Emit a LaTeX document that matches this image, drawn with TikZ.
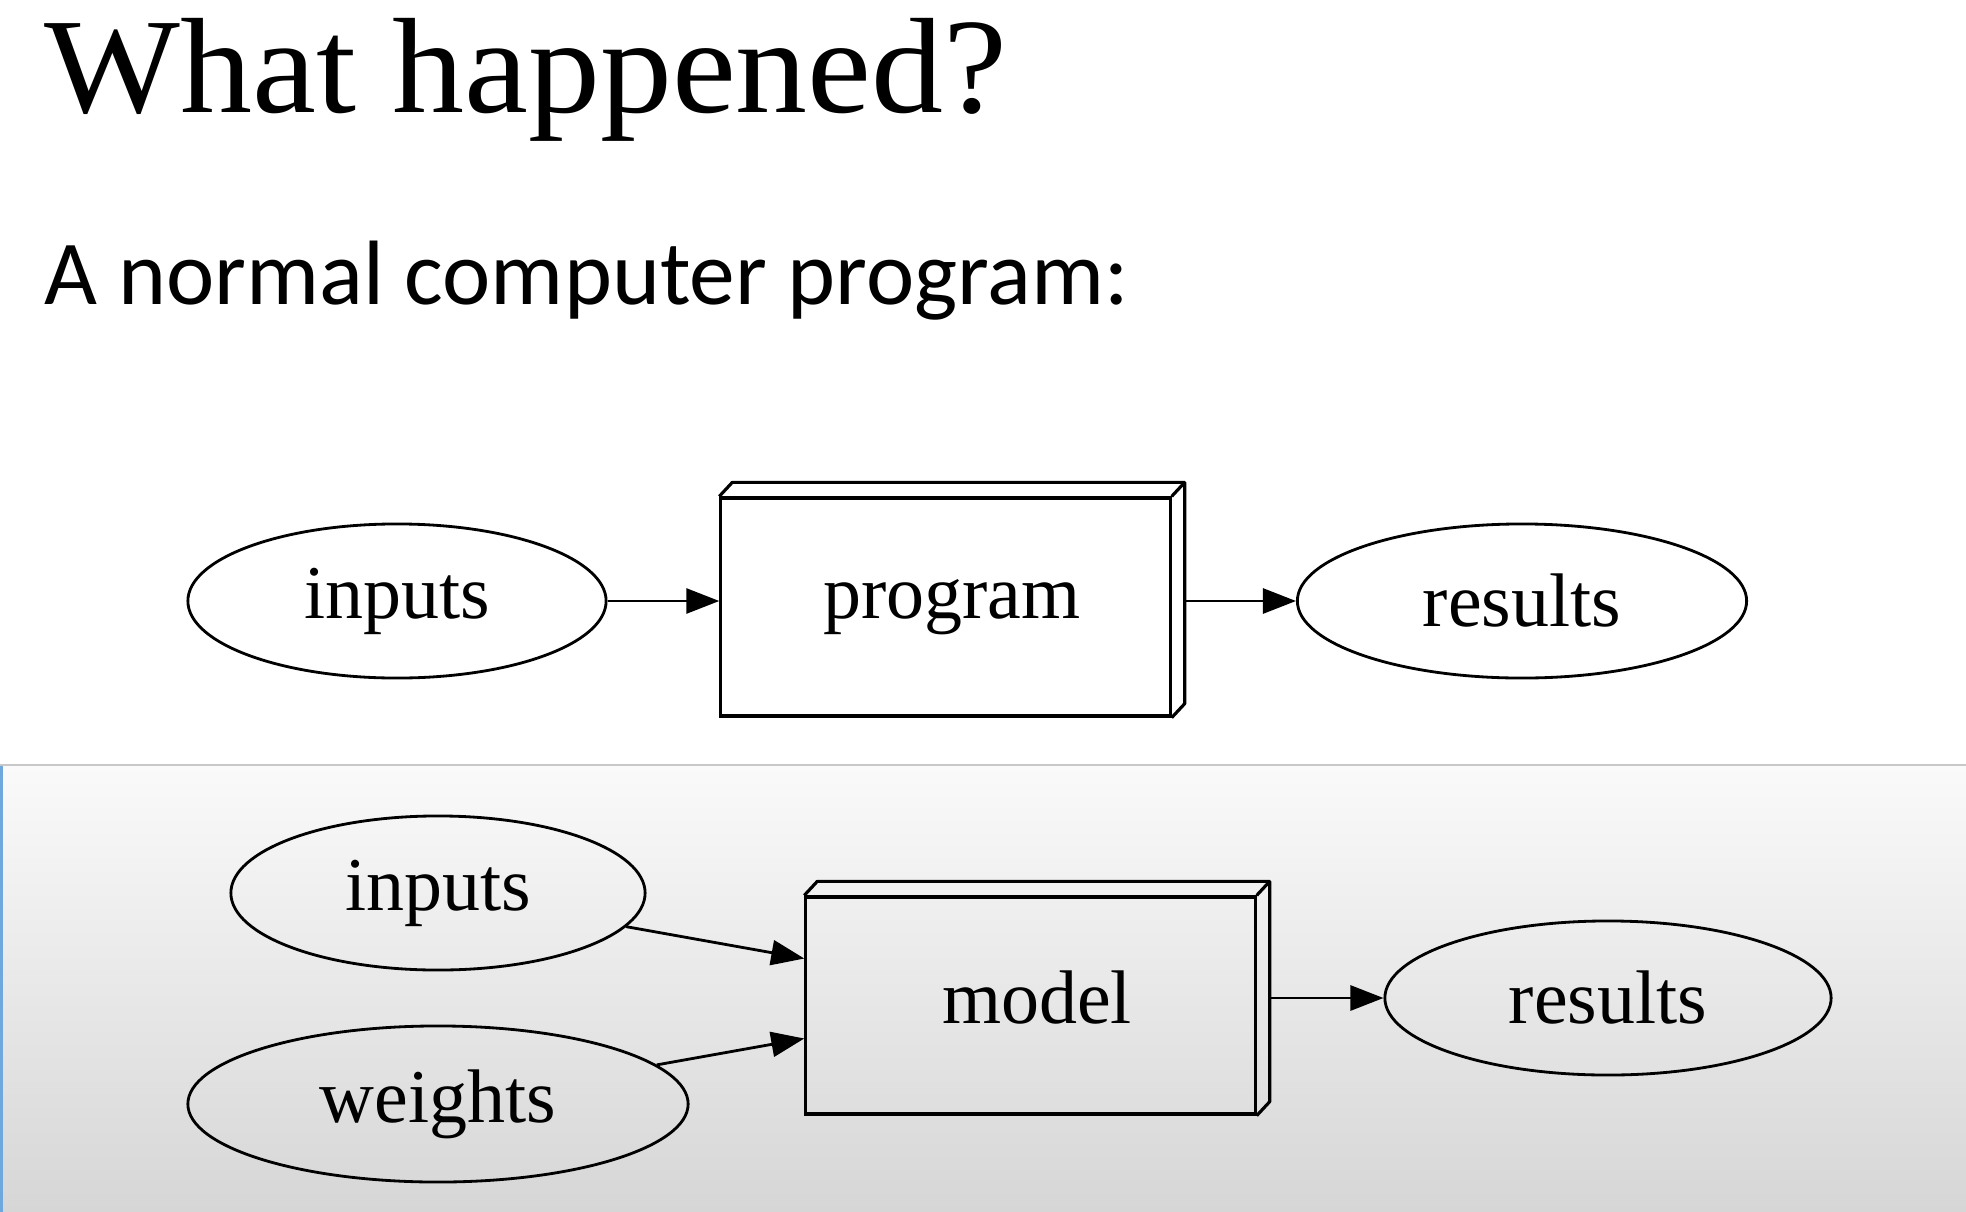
\documentclass[tikz,border=0pt]{standalone}
\usepackage{fontspec}
\setmainfont{Liberation Serif}
\newfontfamily\titlefont[FakeStretch=1.06]{Liberation Serif}
\newfontfamily\subfont{Carlito}
\usetikzlibrary{positioning,shapes.geometric,arrows.meta,calc}
\definecolor{panelgray}{HTML}{D6D6D6}
\definecolor{barblue}{HTML}{6FA8DC}
\definecolor{rulegray}{HTML}{C8C8C8}

\tikzset{
  data/.style={ellipse, draw, line width=0.8pt, inner sep=0pt,
    font=\fontsize{21.6}{24}\selectfont},
  proc/.style={rectangle, draw, line width=0.9pt, inner sep=0pt,
    minimum width=4.49cm},
  boxtext/.style={font=\fontsize{21.6}{24}\selectfont, inner sep=0pt,
    xshift=0.065cm},
  flow/.style={-{Triangle[length=0.33cm, width=0.25cm]}, line width=0.8pt},
}

\begin{document}
\begin{tikzpicture}[x=0.01cm, y=-0.01cm]
\useasboundingbox (0,0) rectangle (1966,1212);

% Slide background
\fill[white] (0,0) rectangle (1966,1212);
\shade[top color=white!98!black, bottom color=panelgray] (0,766) rectangle (1966,1212);
\draw[rulegray, line width=0.6pt] (0,765) -- (1966,765);
\fill[barblue] (0,766) rectangle (3,1212);

% Headings
\node[anchor=base west, inner sep=0pt,
  font=\titlefont\fontsize{38.6}{40}\selectfont] (title) at (44,112) {What happened?};
\node[anchor=base west, inner sep=0pt,
  font=\subfont\fontsize{26}{30}\selectfont] (subtitle) at (44,304) {A normal computer program:};

% Normal program
\node[data, minimum width=4.18cm, minimum height=1.54cm] (inputs) at (397,601) {inputs};
\node[proc, minimum height=2.18cm, label={[boxtext]center:program}] (program) at (945.5,607) {};
\node[data, minimum width=4.49cm, minimum height=1.54cm] (results) at (1522,601) {results};

% Trained model
\node[data, minimum width=4.14cm, minimum height=1.54cm] (inputs2) at (438,893) {inputs};
\node[data, minimum width=5.00cm, minimum height=1.56cm] (weights) at (438,1104) {weights};
\node[proc, minimum height=2.17cm, label={[boxtext, yshift=0.08cm]center:model}] (model) at (1030.5,1005.5) {};
\node[data, minimum width=4.46cm, minimum height=1.54cm] (results2) at (1608,998) {results};

% Box depth
\foreach \b in {program, model}
{
  \draw[line width=0.9pt, line join=round] (\b.north west) -- ++(13,-14)
    -- ($(\b.north east)+(13,-14)$) -- ($(\b.south east)+(13,-14)$) -- (\b.south east);
  \draw[line width=0.9pt] (\b.north east) -- ++(13,-14);
}

% Connect nodes
\draw[flow] (inputs) -- (inputs -| program.west);
\draw[flow] ($(program.east |- results)+(13,0)$) -- (results);
\draw[flow] (inputs2) -- ($(model.west)+(0,-47)$);
\draw[flow] (weights) -- ($(model.west)+(0,33)$);
\draw[flow] ($(model.east |- results2)+(13,0)$) -- (results2);

\end{tikzpicture}
\end{document}
